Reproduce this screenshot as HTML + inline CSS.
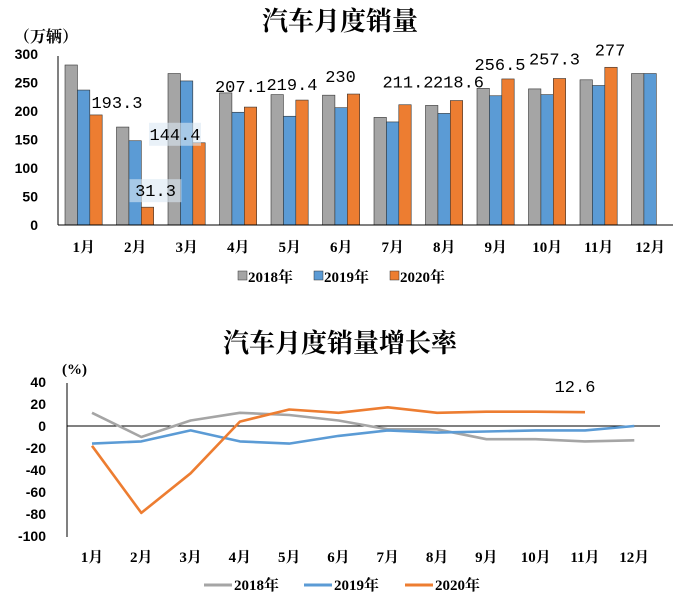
<!DOCTYPE html>
<html><head><meta charset="utf-8">
<style>
html,body{margin:0;padding:0;background:#fff;}
svg{display:block;}
text{font-family:"Liberation Serif","Noto Serif CJK SC",serif;fill:#000;}
.tick{font-family:"Liberation Sans","Noto Sans CJK SC",sans-serif;font-size:14px;font-weight:bold;}
.cat{font-family:"Liberation Serif","Noto Serif CJK SC",serif;font-size:15px;font-weight:bold;}
.lab{font-family:"Liberation Mono","Noto Serif CJK SC",monospace;font-size:17px;}
.title{font-family:"Liberation Serif","Noto Serif CJK SC",serif;font-size:26px;font-weight:bold;}
</style></head>
<body>
<svg id="chart" width="674" height="600" viewBox="0 0 674 600">
<text class="title" x="340" y="30" text-anchor="middle">汽车月度销量</text>
<text x="14" y="42" style="font-size:16px;font-weight:bold">（万辆）</text>
<g id="bars"></g>
<text class="title" x="340" y="352" text-anchor="middle">汽车月度销量增长率</text>
<text x="62" y="374" style="font-size:15px;font-weight:bold">(%)</text>
<g id="lines"></g>
</svg>
<script>
const months=["1月","2月","3月","4月","5月","6月","7月","8月","9月","10月","11月","12月"];
const sales2018=[281,172,266,232,229,228,189,210,240,239,255,266];
const sales2019=[237,148,253,198,191,206,181,196,227,229,245,266];
const sales2020=[193.3,31.3,144.4,207.1,219.4,230,211.2,218.6,256.5,257.3,277];
const salesTicks=[0,50,100,150,200,250,300];
const growth2018=[12,-10,5,12,10,5,-3,-3,-12,-12,-14,-13];
const growth2019=[-16,-14,-4,-14,-16,-9,-4,-6,-5,-4,-4,0];
const growth2020=[-18,-79,-43,4,15,12,17,12,13,13,12.6];
const growthTicks=[40,20,0,-20,-40,-60,-80,-100];
const NS="http://www.w3.org/2000/svg";
function mk(tag,attrs,parent,txt){const e=document.createElementNS(NS,tag);for(const k in attrs)e.setAttribute(k,attrs[k]);if(txt!==undefined)e.textContent=txt;parent.appendChild(e);return e;}
const bg=document.getElementById('bars');
const bx0=58,bStep=51.5,by0=225,bk=160/281;
const bx=i=>bx0+bStep*i, by=v=>by0-v*bk;
const colors=["#a5a5a5","#5b9bd5","#ed7d31"];
const series=[sales2018,sales2019,sales2020];
salesTicks.forEach(t=>{const e=mk('text',{class:'tick',x:38,y:by(t)+5,'text-anchor':'end'},bg,t);

});
series.forEach((s,si)=>s.forEach((v,i)=>{
 const r=mk('rect',{x:bx(i)+7+si*12.4,y:by(v),width:12.4,height:by0-by(v),fill:colors[si],stroke:'#333','stroke-width':0.6},bg);
 
 
}));
mk('line',{x1:bx0,y1:56,x2:bx0,y2:by0,stroke:'#000','stroke-width':1},bg);
mk('line',{x1:bx0,y1:by0,x2:673,y2:by0,stroke:'#000','stroke-width':1},bg);
months.forEach((m,i)=>{const e=mk('text',{class:'cat',x:bx(i)+bStep/2,y:252,'text-anchor':'middle'},bg,m);

});
const labDx=[21,8,-24,-10,-10,-13,3,2,-8,-5,-1];
const labDy=[-7,-11,-3,-15,-10,-12,-17,-13,-9,-14,-12];
sales2020.forEach((v,i)=>{const cx=bx(i)+7+2*12.4+6.2;
 if(i==1||i==2){const bgr=mk('rect',{x:cx+labDx[i]-26,y:by(v)+labDy[i]-17,width:52,height:23,fill:'#dbe7f3',opacity:0.6},bg);
  
  }
 const e=mk('text',{class:'lab',x:cx+labDx[i],y:by(v)+labDy[i],'text-anchor':'middle'},bg,String(v));
 
 });
const leg=[["2018年",238],["2019年",314],["2020年",390]];
leg.forEach((l,i)=>{const g=mk('g',{},bg);
 
 
 mk('rect',{x:l[1],y:271,width:9,height:9,fill:colors[i],stroke:'#333','stroke-width':0.5},g);
 mk('text',{class:'cat',x:l[1]+10,y:282},g,l[0]);});
const lg=document.getElementById('lines');
const lx0=67,lStep=49.3,ly0=426,lk=22/20;
const lx=i=>lx0+25+lStep*i, ly=v=>ly0-v*lk;
growthTicks.forEach(t=>{const e=mk('text',{class:'tick',x:46,y:ly(t)+5,'text-anchor':'end'},lg,t);

});
mk('line',{x1:lx0,y1:383,x2:lx0,y2:537,stroke:'#000','stroke-width':1},lg);
mk('line',{x1:lx0,y1:ly0,x2:660,y2:ly0,stroke:'#000','stroke-width':1},lg);
months.forEach((m,i)=>{const e=mk('text',{class:'cat',x:lx(i),y:562,'text-anchor':'middle'},lg,m);

});
[growth2018,growth2019,growth2020].forEach((s,si)=>{
 const p=mk('polyline',{points:s.map((v,i)=>lx(i)+','+ly(v)).join(' '),fill:'none',stroke:colors[si],'stroke-width':2.6,'stroke-linejoin':'round'},lg);
 
 });
const last=growth2020.length-1;
const gl=mk('text',{class:'lab',x:lx(last)-10,y:ly(growth2020[last])-20,'text-anchor':'middle'},lg,String(growth2020[last]));


const leg2=[["2018年",204],["2019年",304],["2020年",405]];
leg2.forEach((l,i)=>{const g=mk('g',{},lg);
 
 
 mk('line',{x1:l[1],y1:585,x2:l[1]+28,y2:585,stroke:colors[i],'stroke-width':3},g);
 mk('text',{class:'cat',x:l[1]+30,y:590},g,l[0]);});
</script>
</body></html>
